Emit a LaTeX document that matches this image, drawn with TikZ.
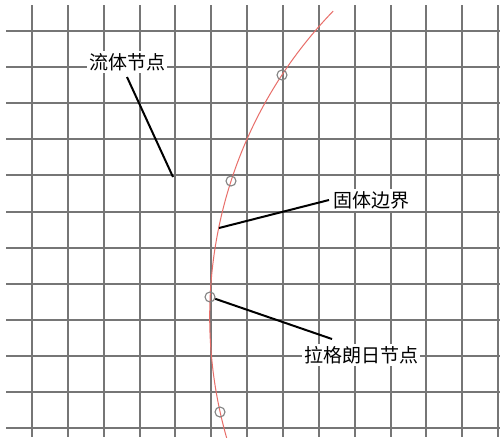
\documentclass[tikz,border=0pt]{standalone}
\usepackage{fontspec}
\newfontfamily\cjk{Noto Sans CJK SC}
\definecolor{gridc}{RGB}{118,118,118}
\definecolor{redc}{RGB}{232,110,105}
\definecolor{circc}{RGB}{130,130,130}
\begin{document}
\begin{tikzpicture}[x=1pt,y=-1pt,
  gridline/.style={draw=gridc,line width=2pt},
  boundary/.style={draw=redc,line width=1pt},
  lnode/.style={circle,draw=circc,line width=1.1pt,minimum size=10pt,inner sep=0pt},
  leader/.style={draw=black,line width=2pt},
  lbl/.style={fill=white,inner sep=2pt,font=\cjk\fontsize{19}{21}\selectfont}]
\useasboundingbox[fill=white] (0,0) rectangle (500,437);
% grid
\foreach \i in {0,...,13} {
  \pgfmathsetmacro{\xx}{round(32+35.85*\i)}
  \draw[gridline] (\xx,5) -- (\xx,437);
}
\foreach \j in {0,...,11} {
  \pgfmathsetmacro{\yy}{round(31+36.1*\j)}
  \draw[gridline] (6,\yy) -- (500,\yy);
}
% solid boundary (arc of circle centred at (649.7,316.7), r=440)
\begin{scope}
\clip (0,0) rectangle (500,437);
\draw[boundary] (649.7,316.7) ++(224:440) arc[start angle=224,end angle=134,radius=440];
\end{scope}
% Lagrangian nodes
\node[lnode] (c1) at (282,75) {};
\node[lnode] (c2) at (231,181) {};
\node[lnode] (c3) at (210,297) {};
\node[lnode] (c4) at (220,412) {};
% labels
\node[lbl] (l1) at (127,62) {流体节点};
\node[lbl] (l2) at (371,200) {固体边界};
\node[lbl] (l3) at (361,355) {拉格朗日节点};
% leader ends
\coordinate (a1) at (127,77);
\coordinate (b1) at (173,177);
\coordinate (a2) at (219,228);
\coordinate (b2) at (329,200);
\coordinate (b3) at (332,339);
\draw[leader] (a1) -- (b1);
\draw[leader] (a2) -- (b2);
\draw[leader] (c3) -- (b3);
\end{tikzpicture}
\end{document}
